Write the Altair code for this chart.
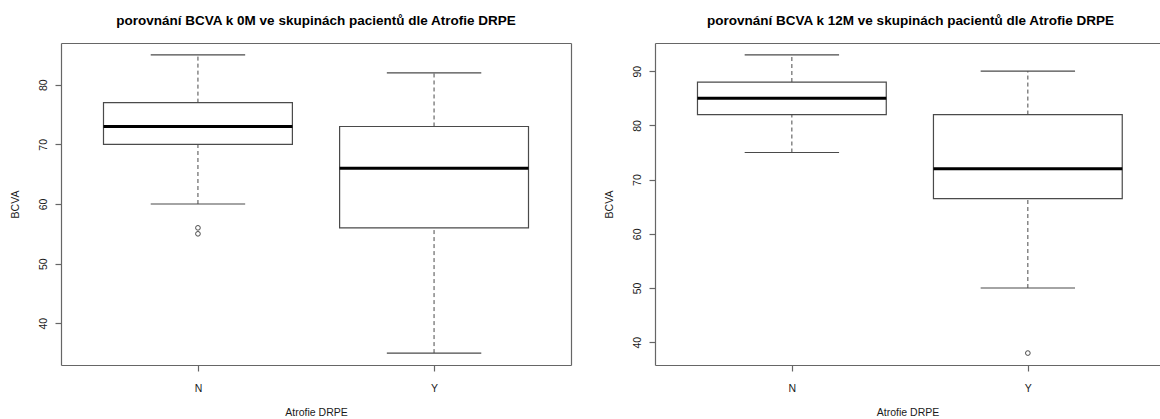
import altair as alt
import pandas as pd

# ---------------- data ----------------
groups = ["N", "Y"]

m0_lower = [60, 35]
m0_q1 = [70, 56]
m0_median = [73, 66]
m0_q3 = [77, 73]
m0_upper = [85, 82]
m0_out_group = ["N", "N"]
m0_out_value = [56, 55]

m12_lower = [75, 50]
m12_q1 = [82, 66.5]
m12_median = [85, 72]
m12_q3 = [88, 82]
m12_upper = [93, 90]
m12_out_group = ["Y"]
m12_out_value = [38]

y_ticks_0 = [40, 50, 60, 70, 80]
y_ticks_12 = [40, 50, 60, 70, 80, 90]

title_0 = "porovnání BCVA k 0M ve skupinách pacientů dle Atrofie DRPE"
title_12 = "porovnání BCVA k 12M ve skupinách pacientů dle Atrofie DRPE"
x_title = "Atrofie DRPE"
y_title = "BCVA"

# ---------------- style ----------------
FONT = "Liberation Sans"
LINE = "#4a4a4a"
BORDER = "#666666"
TEXT = "#1a1a1a"
H = 322


def panel(lower, q1, med, q3, upper, og, ov, ydom, yticks, xdom, width, title, right_border, tdx=0):
    stats = pd.DataFrame({
        "group": groups,
        "pos": [i + 1 for i in range(len(groups))],
        "lower": lower, "q1": q1, "median": med, "q3": q3, "upper": upper,
    })
    outl = pd.DataFrame({"group": og, "value": ov})
    outl["pos"] = [groups.index(g) + 1 for g in og]

    xs = alt.Scale(domain=xdom, nice=False, zero=False)
    ys = alt.Scale(domain=ydom, nice=False, zero=False)
    label_expr = "[" + ",".join("'%s'" % g for g in groups) + "][datum.value - 1]"

    xaxis = alt.Axis(values=[i + 1 for i in range(len(groups))], labelExpr=label_expr,
                     title=x_title, grid=False, domain=True, domainColor=BORDER, domainWidth=1.2,
                     tickColor=BORDER, tickSize=6, tickWidth=1.2, labelAngle=0,
                     labelFont=FONT, labelFontSize=10.5, labelColor=TEXT, labelPadding=12,
                     titleFont=FONT, titleFontSize=10.5, titleFontWeight="normal", titleColor=TEXT,
                     titlePadding=14)
    yaxis = alt.Axis(values=yticks, labelAngle=-90, title=y_title, grid=False,
                     domain=True, domainColor=BORDER, domainWidth=1.2,
                     tickColor=BORDER, tickSize=6, tickWidth=1.2,
                     labelFont=FONT, labelFontSize=10.5, labelColor=TEXT, labelPadding=7,
                     labelAlign="center", labelBaseline="bottom",
                     titleFont=FONT, titleFontSize=10.5, titleFontWeight="normal", titleColor=TEXT,
                     titlePadding=18)

    base = alt.Chart(stats).transform_calculate(
        left="datum.pos - 0.4", right="datum.pos + 0.4",
        sl="datum.pos - 0.2", sr="datum.pos + 0.2")

    whisk_up = base.mark_rule(color=LINE, strokeWidth=1, strokeDash=[4, 3]).encode(
        x=alt.X("pos:Q", scale=xs, axis=xaxis),
        y=alt.Y("q3:Q", scale=ys, axis=yaxis), y2="upper:Q")
    whisk_lo = base.mark_rule(color=LINE, strokeWidth=1, strokeDash=[4, 3]).encode(
        x=alt.X("pos:Q", axis=None), y=alt.Y("lower:Q", axis=None), y2="q1:Q")
    staple_up = base.mark_rule(color=LINE, strokeWidth=1.2).encode(
        x=alt.X("sl:Q", axis=None), x2="sr:Q", y=alt.Y("upper:Q", axis=None))
    staple_lo = base.mark_rule(color=LINE, strokeWidth=1.2).encode(
        x=alt.X("sl:Q", axis=None), x2="sr:Q", y=alt.Y("lower:Q", axis=None))
    box = base.mark_rect(fill="white", stroke=LINE, strokeWidth=1.2).encode(
        x=alt.X("left:Q", axis=None), x2="right:Q",
        y=alt.Y("q1:Q", axis=None), y2="q3:Q")
    median = base.mark_rule(color="black", strokeWidth=3).encode(
        x=alt.X("left:Q", axis=None), x2="right:Q", y=alt.Y("median:Q", axis=None))
    pts = alt.Chart(outl).mark_point(shape="circle", filled=False, size=22,
                                      color=LINE, strokeWidth=1, opacity=1).encode(
        x=alt.X("pos:Q", axis=None), y=alt.Y("value:Q", axis=None))

    top_axis = alt.Axis(orient="top", labels=False, ticks=False, domain=True,
                        domainColor=BORDER, domainWidth=1.2, title=None, grid=False)
    if right_border:
        right_axis = alt.Axis(orient="right", labels=False, ticks=False, domain=True,
                              domainColor=BORDER, domainWidth=1.2, title=None, grid=False)
    else:
        right_axis = None
    frame = base.mark_rule(opacity=0).encode(
        x=alt.X("pos:Q", axis=top_axis), y=alt.Y("median:Q", axis=right_axis))

    return alt.layer(whisk_up, whisk_lo, staple_up, staple_lo, box, median, pts, frame).resolve_axis(
        x="independent", y="independent").properties(
        width=width, height=H,
        title=alt.TitleParams(text=title, font=FONT, fontSize=13.5, fontWeight="bold",
                              color="black", anchor="middle", frame="group", offset=16, dx=tdx))


left = panel(m0_lower, m0_q1, m0_median, m0_q3, m0_upper, m0_out_group, m0_out_value,
             [33, 87], y_ticks_0, [0.42, 2.58], 510, title_0, True)
right = panel(m12_lower, m12_q1, m12_median, m12_q3, m12_upper, m12_out_group, m12_out_value,
              [35.8, 95.2], y_ticks_12, [0.42, 2.56], 505, title_12, False, tdx=3)

chart = alt.hconcat(left, right, spacing=32).properties(
    padding={"left": 10, "top": 13, "right": 0, "bottom": 0},
    background="white",
).configure_view(stroke=None)

chart.save("out.html", embed_options={"renderer": "svg", "actions": False})
